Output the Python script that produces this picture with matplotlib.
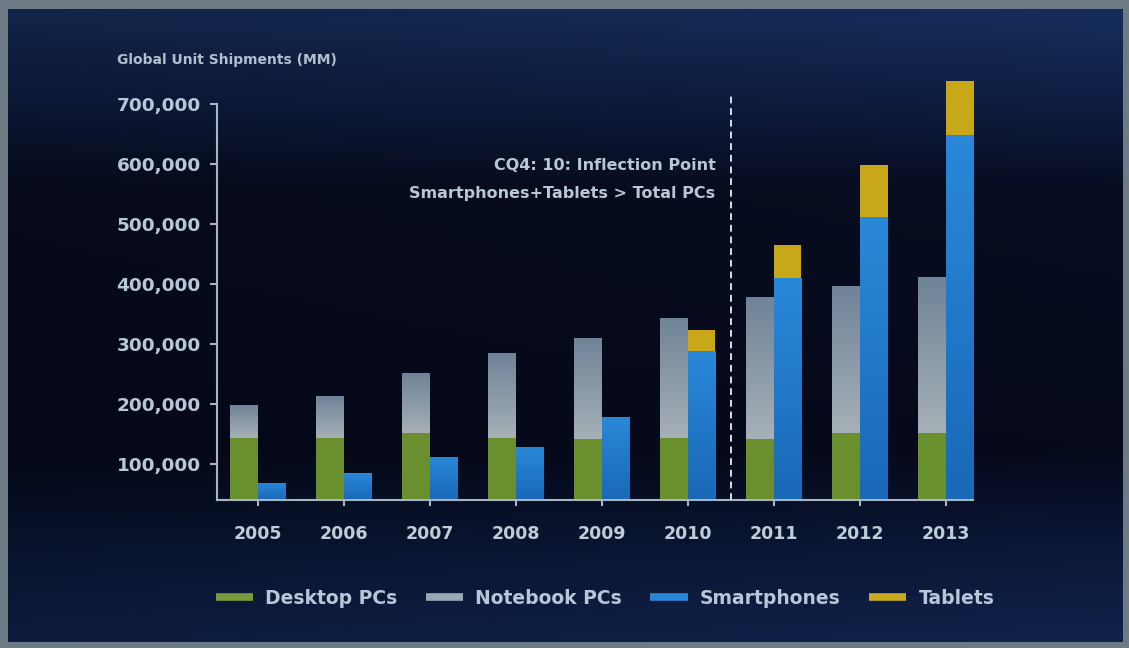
import numpy as np
import matplotlib
matplotlib.use("Agg")
import matplotlib.pyplot as plt
from matplotlib.colors import LinearSegmentedColormap
from matplotlib.lines import Line2D

# values (units, thousands shown in full)
years = ["2005", "2006", "2007", "2008", "2009", "2010", "2011", "2012", "2013"]
desktop = [143000, 143000, 151000, 143000, 141000, 143000, 141000, 151000, 151000]
notebook = [55000, 70000, 100000, 141500, 169500, 201000, 237000, 246000, 261000]
smartphones = [69000, 84500, 112000, 129000, 179000, 288000, 409500, 512000, 648000]
tablets = [0, 0, 0, 0, 0, 35000, 55500, 86000, 90000]

y_ticks = [100000, 200000, 300000, 400000, 500000, 600000, 700000]
legend_labels = ["Desktop PCs", "Notebook PCs", "Smartphones", "Tablets"]
note_lines = ["CQ4: 10: Inflection Point", "Smartphones+Tablets > Total PCs"]

C_DESK = "#6a8f2e"
C_NOTE = "#8c9bab"
C_SMART = "#2180d2"
C_TAB = "#c8a818"
TXT = "#b8c7d7"

plt.rcParams["font.family"] = ["DejaVu Sans"]
plt.rcParams["font.weight"] = "bold"

W, H = 1129, 648
fig = plt.figure(figsize=(W / 100, H / 100), dpi=100)
fig.patch.set_facecolor("#6d7983")

# background panel with a soft blue glow at top and bottom
bg = fig.add_axes([8 / W, 6 / H, (W - 14) / W, (H - 15) / H])
bg.axis("off")
cmap = LinearSegmentedColormap.from_list(
    "bg", [(0.0, "#162d5a"), (0.12, "#102046"), (0.28, "#080d22"),
           (0.7, "#060a1c"), (0.86, "#0b1838"), (1.0, "#10234c")])
gy = np.linspace(0, 1, 300)[:, None]
gx = np.linspace(0, 1, 400)[None, :]
grad = gy + 0 * gx
img = cmap(grad)
shade = (0.8 + 0.2 * gx)[..., None]
img[..., :3] = img[..., :3] * shade
bg.imshow(img, aspect="auto", extent=[0, 1, 0, 1])
bg.set_xlim(0, 1)
bg.set_ylim(0, 1)

ax = fig.add_axes([217.3 / W, 148 / H, 755.4 / W, 432 / H])
ax.set_facecolor("none")

x = np.arange(len(years))
w = 0.32
ax.bar(x - w / 2, desktop, w, color=C_DESK, zorder=2)
nb = ax.bar(x - w / 2, notebook, w, bottom=desktop, color=C_NOTE, zorder=2)
sp = ax.bar(x + w / 2, smartphones, w, color=C_SMART, zorder=2)
ax.bar(x + w / 2, tablets, w, bottom=smartphones, color=C_TAB, zorder=2, clip_on=False)


def shade_bars(bars, colors):
    cm = LinearSegmentedColormap.from_list("g", colors)
    for p in bars:
        x0, y0 = p.get_x(), max(p.get_y(), 40000)
        im = ax.imshow(np.linspace(0, 1, 100)[:, None], cmap=cm, aspect="auto",
                       origin="lower",
                       extent=[x0, x0 + p.get_width(), y0, p.get_y() + p.get_height()],
                       zorder=2.1)
        im.set_clip_path(p)


shade_bars(nb, ["#a6b0b6", "#6f8398"])
shade_bars(sp, ["#1a68b8", "#2a88d8"])

ax.set_xlim(-0.47, 8.31)
ax.set_ylim(40000, 760000)

ax.plot([5.5, 5.5], [40000, 720000], ls=(0, (3.5, 2.5)), color="#d8dee8", lw=1.4,
        clip_on=False, zorder=3)

ax.text(5.32, 598000, note_lines[0], ha="right", va="center", fontsize=11.5,
        color=TXT, fontweight="bold")
ax.text(5.32, 551000, note_lines[1], ha="right", va="center", fontsize=11.5,
        color=TXT, fontweight="bold")

for s in ["top", "right"]:
    ax.spines[s].set_visible(False)
for s in ["left", "bottom"]:
    ax.spines[s].set_color("#a7b4c4")
    ax.spines[s].set_linewidth(1.5)
ax.spines["left"].set_bounds(40000, 700000)

ax.set_yticks(y_ticks)
ax.set_yticklabels([f"{v:,}" for v in y_ticks])
ax.set_xticks(x)
ax.set_xticklabels(years)
ax.tick_params(axis="y", length=5, width=1.5, color="#a7b4c4", pad=7,
               labelsize=13.3, labelcolor=TXT)
ax.tick_params(axis="x", length=4, width=1.5, color="#a7b4c4", pad=14,
               labelsize=12.5, labelcolor="#c0ccd8")
for lab in ax.get_xticklabels() + ax.get_yticklabels():
    lab.set_fontweight("bold")

fig.text(117 / W, 1 - 60 / H, "Global Unit Shipments (MM)", fontsize=10,
         color="#b3bfcc", fontweight="bold", va="center", ha="left")

handles = [Line2D([], [], color=c, lw=5.5, solid_capstyle="butt")
           for c in ["#7a9c3c", "#9aa8b6", "#2a86d6", "#c8aa1c"]]
leg = fig.legend(handles, legend_labels, loc="center", bbox_to_anchor=(605 / W, 1 - 598 / H),
                 ncol=4, frameon=False, fontsize=13.5, handlelength=2.0,
                 handletextpad=0.65, columnspacing=1.5, labelcolor=TXT)
for t in leg.get_texts():
    t.set_fontweight("bold")

fig.savefig("out.png", dpi=100, facecolor=fig.get_facecolor())
